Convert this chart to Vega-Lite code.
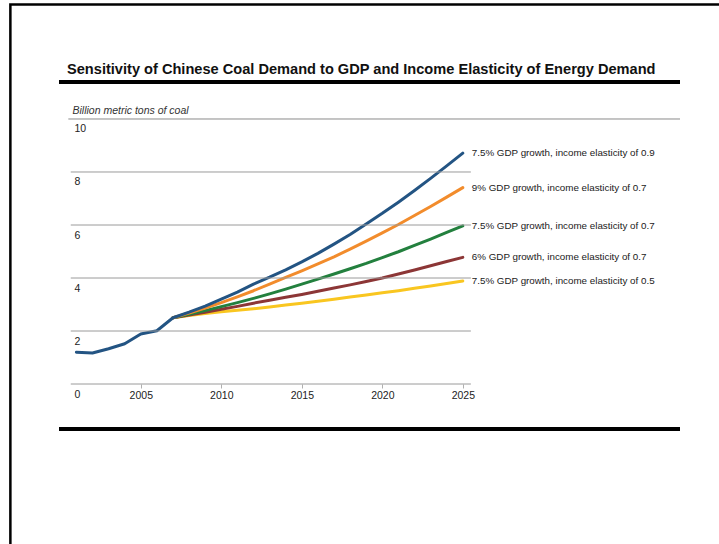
{
  "$schema": "https://vega.github.io/schema/vega-lite/v6.json",
  "width": 621,
  "height": 346,
  "autosize": {"type": "none"},
  "padding": {"left": 59, "top": 82, "right": 39, "bottom": 116},
  "background": "white",
  "config": {"view": {"stroke": null}, "font": "Liberation Sans"},
  "title": {
    "text": "Sensitivity of Chinese Coal Demand to GDP and Income Elasticity of Energy Demand",
    "anchor": "start",
    "frame": "group",
    "dx": 8,
    "offset": -85,
    "baseline": "alphabetic",
    "font": "Liberation Sans",
    "fontSize": 14.6,
    "fontWeight": "bold",
    "color": "#111111"
  },
  "datasets": {
    "grid": [{"value": 0}, {"value": 2}, {"value": 4}, {"value": 6}, {"value": 8}],
    "coal": [
      {"series": "7.5% GDP growth, income elasticity of 0.5", "year": 2007, "value": 2.50},
      {"series": "7.5% GDP growth, income elasticity of 0.5", "year": 2008, "value": 2.58},
      {"series": "7.5% GDP growth, income elasticity of 0.5", "year": 2009, "value": 2.66},
      {"series": "7.5% GDP growth, income elasticity of 0.5", "year": 2010, "value": 2.73},
      {"series": "7.5% GDP growth, income elasticity of 0.5", "year": 2011, "value": 2.78},
      {"series": "7.5% GDP growth, income elasticity of 0.5", "year": 2012, "value": 2.84},
      {"series": "7.5% GDP growth, income elasticity of 0.5", "year": 2013, "value": 2.91},
      {"series": "7.5% GDP growth, income elasticity of 0.5", "year": 2014, "value": 2.98},
      {"series": "7.5% GDP growth, income elasticity of 0.5", "year": 2015, "value": 3.05},
      {"series": "7.5% GDP growth, income elasticity of 0.5", "year": 2016, "value": 3.12},
      {"series": "7.5% GDP growth, income elasticity of 0.5", "year": 2017, "value": 3.20},
      {"series": "7.5% GDP growth, income elasticity of 0.5", "year": 2018, "value": 3.28},
      {"series": "7.5% GDP growth, income elasticity of 0.5", "year": 2019, "value": 3.36},
      {"series": "7.5% GDP growth, income elasticity of 0.5", "year": 2020, "value": 3.44},
      {"series": "7.5% GDP growth, income elasticity of 0.5", "year": 2021, "value": 3.52},
      {"series": "7.5% GDP growth, income elasticity of 0.5", "year": 2022, "value": 3.61},
      {"series": "7.5% GDP growth, income elasticity of 0.5", "year": 2023, "value": 3.70},
      {"series": "7.5% GDP growth, income elasticity of 0.5", "year": 2024, "value": 3.79},
      {"series": "7.5% GDP growth, income elasticity of 0.5", "year": 2025, "value": 3.89},

      {"series": "6% GDP growth, income elasticity of 0.7", "year": 2007, "value": 2.50},
      {"series": "6% GDP growth, income elasticity of 0.7", "year": 2008, "value": 2.60},
      {"series": "6% GDP growth, income elasticity of 0.7", "year": 2009, "value": 2.71},
      {"series": "6% GDP growth, income elasticity of 0.7", "year": 2010, "value": 2.82},
      {"series": "6% GDP growth, income elasticity of 0.7", "year": 2011, "value": 2.93},
      {"series": "6% GDP growth, income elasticity of 0.7", "year": 2012, "value": 3.05},
      {"series": "6% GDP growth, income elasticity of 0.7", "year": 2013, "value": 3.16},
      {"series": "6% GDP growth, income elasticity of 0.7", "year": 2014, "value": 3.27},
      {"series": "6% GDP growth, income elasticity of 0.7", "year": 2015, "value": 3.38},
      {"series": "6% GDP growth, income elasticity of 0.7", "year": 2016, "value": 3.50},
      {"series": "6% GDP growth, income elasticity of 0.7", "year": 2017, "value": 3.62},
      {"series": "6% GDP growth, income elasticity of 0.7", "year": 2018, "value": 3.74},
      {"series": "6% GDP growth, income elasticity of 0.7", "year": 2019, "value": 3.87},
      {"series": "6% GDP growth, income elasticity of 0.7", "year": 2020, "value": 4.00},
      {"series": "6% GDP growth, income elasticity of 0.7", "year": 2021, "value": 4.15},
      {"series": "6% GDP growth, income elasticity of 0.7", "year": 2022, "value": 4.30},
      {"series": "6% GDP growth, income elasticity of 0.7", "year": 2023, "value": 4.46},
      {"series": "6% GDP growth, income elasticity of 0.7", "year": 2024, "value": 4.62},
      {"series": "6% GDP growth, income elasticity of 0.7", "year": 2025, "value": 4.78},

      {"series": "7.5% GDP growth, income elasticity of 0.7", "year": 2007, "value": 2.50},
      {"series": "7.5% GDP growth, income elasticity of 0.7", "year": 2008, "value": 2.63},
      {"series": "7.5% GDP growth, income elasticity of 0.7", "year": 2009, "value": 2.77},
      {"series": "7.5% GDP growth, income elasticity of 0.7", "year": 2010, "value": 2.92},
      {"series": "7.5% GDP growth, income elasticity of 0.7", "year": 2011, "value": 3.07},
      {"series": "7.5% GDP growth, income elasticity of 0.7", "year": 2012, "value": 3.23},
      {"series": "7.5% GDP growth, income elasticity of 0.7", "year": 2013, "value": 3.40},
      {"series": "7.5% GDP growth, income elasticity of 0.7", "year": 2014, "value": 3.58},
      {"series": "7.5% GDP growth, income elasticity of 0.7", "year": 2015, "value": 3.77},
      {"series": "7.5% GDP growth, income elasticity of 0.7", "year": 2016, "value": 3.96},
      {"series": "7.5% GDP growth, income elasticity of 0.7", "year": 2017, "value": 4.15},
      {"series": "7.5% GDP growth, income elasticity of 0.7", "year": 2018, "value": 4.35},
      {"series": "7.5% GDP growth, income elasticity of 0.7", "year": 2019, "value": 4.55},
      {"series": "7.5% GDP growth, income elasticity of 0.7", "year": 2020, "value": 4.77},
      {"series": "7.5% GDP growth, income elasticity of 0.7", "year": 2021, "value": 4.99},
      {"series": "7.5% GDP growth, income elasticity of 0.7", "year": 2022, "value": 5.23},
      {"series": "7.5% GDP growth, income elasticity of 0.7", "year": 2023, "value": 5.47},
      {"series": "7.5% GDP growth, income elasticity of 0.7", "year": 2024, "value": 5.72},
      {"series": "7.5% GDP growth, income elasticity of 0.7", "year": 2025, "value": 5.97},

      {"series": "9% GDP growth, income elasticity of 0.7", "year": 2007, "value": 2.50},
      {"series": "9% GDP growth, income elasticity of 0.7", "year": 2008, "value": 2.68},
      {"series": "9% GDP growth, income elasticity of 0.7", "year": 2009, "value": 2.87},
      {"series": "9% GDP growth, income elasticity of 0.7", "year": 2010, "value": 3.07},
      {"series": "9% GDP growth, income elasticity of 0.7", "year": 2011, "value": 3.29},
      {"series": "9% GDP growth, income elasticity of 0.7", "year": 2012, "value": 3.52},
      {"series": "9% GDP growth, income elasticity of 0.7", "year": 2013, "value": 3.77},
      {"series": "9% GDP growth, income elasticity of 0.7", "year": 2014, "value": 4.02},
      {"series": "9% GDP growth, income elasticity of 0.7", "year": 2015, "value": 4.27},
      {"series": "9% GDP growth, income elasticity of 0.7", "year": 2016, "value": 4.53},
      {"series": "9% GDP growth, income elasticity of 0.7", "year": 2017, "value": 4.80},
      {"series": "9% GDP growth, income elasticity of 0.7", "year": 2018, "value": 5.09},
      {"series": "9% GDP growth, income elasticity of 0.7", "year": 2019, "value": 5.39},
      {"series": "9% GDP growth, income elasticity of 0.7", "year": 2020, "value": 5.70},
      {"series": "9% GDP growth, income elasticity of 0.7", "year": 2021, "value": 6.02},
      {"series": "9% GDP growth, income elasticity of 0.7", "year": 2022, "value": 6.36},
      {"series": "9% GDP growth, income elasticity of 0.7", "year": 2023, "value": 6.70},
      {"series": "9% GDP growth, income elasticity of 0.7", "year": 2024, "value": 7.05},
      {"series": "9% GDP growth, income elasticity of 0.7", "year": 2025, "value": 7.41},

      {"series": "7.5% GDP growth, income elasticity of 0.9", "year": 2001, "value": 1.20},
      {"series": "7.5% GDP growth, income elasticity of 0.9", "year": 2002, "value": 1.17},
      {"series": "7.5% GDP growth, income elasticity of 0.9", "year": 2003, "value": 1.33},
      {"series": "7.5% GDP growth, income elasticity of 0.9", "year": 2004, "value": 1.52},
      {"series": "7.5% GDP growth, income elasticity of 0.9", "year": 2005, "value": 1.89},
      {"series": "7.5% GDP growth, income elasticity of 0.9", "year": 2006, "value": 2.01},
      {"series": "7.5% GDP growth, income elasticity of 0.9", "year": 2007, "value": 2.50},
      {"series": "7.5% GDP growth, income elasticity of 0.9", "year": 2008, "value": 2.71},
      {"series": "7.5% GDP growth, income elasticity of 0.9", "year": 2009, "value": 2.94},
      {"series": "7.5% GDP growth, income elasticity of 0.9", "year": 2010, "value": 3.20},
      {"series": "7.5% GDP growth, income elasticity of 0.9", "year": 2011, "value": 3.47},
      {"series": "7.5% GDP growth, income elasticity of 0.9", "year": 2012, "value": 3.77},
      {"series": "7.5% GDP growth, income elasticity of 0.9", "year": 2013, "value": 4.03},
      {"series": "7.5% GDP growth, income elasticity of 0.9", "year": 2014, "value": 4.31},
      {"series": "7.5% GDP growth, income elasticity of 0.9", "year": 2015, "value": 4.61},
      {"series": "7.5% GDP growth, income elasticity of 0.9", "year": 2016, "value": 4.93},
      {"series": "7.5% GDP growth, income elasticity of 0.9", "year": 2017, "value": 5.28},
      {"series": "7.5% GDP growth, income elasticity of 0.9", "year": 2018, "value": 5.64},
      {"series": "7.5% GDP growth, income elasticity of 0.9", "year": 2019, "value": 6.04},
      {"series": "7.5% GDP growth, income elasticity of 0.9", "year": 2020, "value": 6.44},
      {"series": "7.5% GDP growth, income elasticity of 0.9", "year": 2021, "value": 6.86},
      {"series": "7.5% GDP growth, income elasticity of 0.9", "year": 2022, "value": 7.30},
      {"series": "7.5% GDP growth, income elasticity of 0.9", "year": 2023, "value": 7.76},
      {"series": "7.5% GDP growth, income elasticity of 0.9", "year": 2024, "value": 8.23},
      {"series": "7.5% GDP growth, income elasticity of 0.9", "year": 2025, "value": 8.71}
    ]
  },
  "layer": [
    {
      "data": {"name": "coal"},
      "mark": {"type": "line", "strokeWidth": 3, "strokeCap": "round", "strokeJoin": "round"},
      "encoding": {
        "x": {
          "field": "year",
          "type": "quantitative",
          "scale": {"domain": [1999.92, 2038.49], "nice": false, "zero": false},
          "axis": {
            "orient": "bottom",
            "offset": -44,
            "values": [2005, 2010, 2015, 2020, 2025],
            "format": "d",
            "title": null,
            "domain": false,
            "grid": false,
            "ticks": true,
            "tickSize": 4,
            "tickColor": "#b0b0b0",
            "labelPadding": 2,
            "labelFont": "Liberation Sans",
            "labelFontSize": 10.5,
            "labelColor": "#222222"
          }
        },
        "y": {
          "field": "value",
          "type": "quantitative",
          "scale": {"domain": [-1.66, 11.396], "nice": false, "zero": false},
          "axis": {
            "orient": "left",
            "values": [0, 2, 4, 6, 8, 10],
            "domain": false,
            "ticks": false,
            "grid": false,
            "labelAlign": "left",
            "labelBaseline": "top",
            "labelPadding": -15,
            "labelOffset": 5,
            "labelFont": "Liberation Sans",
            "labelFontSize": 10.5,
            "labelColor": "#222222",
            "title": "Billion metric tons of coal",
            "titleAngle": 0,
            "titleAlign": "left",
            "titleBaseline": "middle",
            "titleX": 13,
            "titleY": 28,
            "titleFont": "Liberation Sans",
            "titleFontStyle": "italic",
            "titleFontWeight": "normal",
            "titleFontSize": 10.5,
            "titleColor": "#333333"
          }
        },
        "color": {
          "field": "series",
          "type": "nominal",
          "sort": null,
          "scale": {
            "domain": [
              "7.5% GDP growth, income elasticity of 0.9",
              "9% GDP growth, income elasticity of 0.7",
              "7.5% GDP growth, income elasticity of 0.7",
              "6% GDP growth, income elasticity of 0.7",
              "7.5% GDP growth, income elasticity of 0.5"
            ],
            "range": ["#235483", "#f28c2c", "#23803e", "#8c3636", "#f9c620"]
          },
          "legend": null
        }
      }
    },
    {
      "data": {"name": "grid"},
      "mark": {"type": "rule", "stroke": "#9a9a9a", "strokeWidth": 1},
      "encoding": {
        "y": {"field": "value", "type": "quantitative"},
        "x": {"datum": 2000.65, "type": "quantitative"},
        "x2": {"datum": 2025.5}
      }
    },
    {
      "data": {"values": [{}]},
      "layer": [
        {
          "mark": {"type": "rule", "stroke": "#8a8a8a", "strokeWidth": 1},
          "encoding": {
            "y": {"datum": 10, "type": "quantitative"},
            "x": {"datum": 2000.5, "type": "quantitative"},
            "x2": {"datum": 2038.49}
          }
        },
        {
          "mark": {"type": "rule", "stroke": "black", "strokeWidth": 4},
          "encoding": {"y": {"datum": 11.396, "type": "quantitative"}}
        },
        {
          "mark": {"type": "rule", "stroke": "black", "strokeWidth": 4},
          "encoding": {"y": {"datum": -1.7, "type": "quantitative"}}
        },
        {
          "mark": {"type": "rect", "filled": false, "stroke": "black", "strokeWidth": 2.5, "clip": false},
          "encoding": {
            "x": {"datum": 1996.9, "type": "quantitative"},
            "x2": {"datum": 2060},
            "y": {"datum": 14.32, "type": "quantitative"},
            "y2": {"datum": -12}
          }
        }
      ]
    },
    {
      "data": {"name": "coal"},
      "transform": [{"filter": "datum.year === 2025"}],
      "mark": {
        "type": "text",
        "align": "left",
        "baseline": "middle",
        "dx": 9,
        "font": "Liberation Sans",
        "fontSize": 9.8,
        "fill": "#1a1a1a"
      },
      "encoding": {
        "x": {"field": "year", "type": "quantitative"},
        "y": {"field": "value", "type": "quantitative"},
        "text": {"field": "series", "type": "nominal"}
      }
    }
  ]
}
